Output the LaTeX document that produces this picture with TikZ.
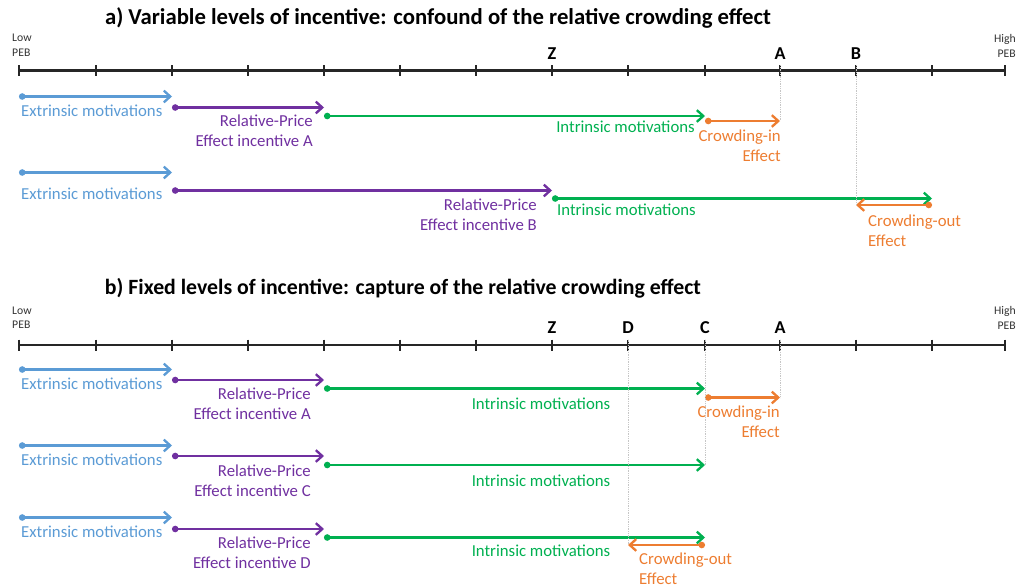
\documentclass[tikz,border=0pt]{standalone}
\usepackage{fontspec}
\setmainfont{Carlito}
\usetikzlibrary{arrows.meta,positioning}

\definecolor{extblue}{HTML}{5B9BD5}
\definecolor{relpurple}{HTML}{7030A0}
\definecolor{intgreen}{HTML}{00B050}
\definecolor{crowdorange}{HTML}{ED7D31}

\tikzset{
  axisline/.style={line width=2pt, black!85},
  axistick/.style={line width=1.7pt, black!85},
  mot/.style={line width=2pt, {Circle[length=5.5pt]}-{Straight Barb[length=5.5pt,width=10pt]}},
  lbl/.style={font=\fontsize{14.3}{17}\selectfont, inner sep=0pt},
  endlbl/.style={font=\fontsize{10}{12.5}\selectfont, inner sep=0pt, black!80},
  ptlbl/.style={font=\bfseries\fontsize{15.5}{15.5}\selectfont, inner sep=0pt},
  ttl/.style={font=\bfseries\fontsize{19.4}{20}\selectfont, inner sep=0pt},
  guide/.style={gray!45, line width=0.5pt, densely dotted}
}

% name, colour, x start, x end, y
\newcommand{\motive}[5]{%
  \coordinate (#1s) at (#3,#5);
  \coordinate (#1e) at (#4,#5);
  \draw[mot,#2] (#1s) -- (#1e);}

\begin{document}
\begin{tikzpicture}[x=0.03cm, y=-0.03cm]
  \useasboundingbox (0,0) rectangle (1018,587);

  % ---- panel a ----
  \node[ttl] (ttla) at (438,18) {a) Variable levels of incentive: confound of the relative crowding effect};
  \draw[axisline] (19,70.5) -- (1005,70.5);
  \foreach \x [count=\i from 0] in {19,96,172,248,324,400,476,552,628,705,780,856,932,1005}
    \draw[axistick] (\x,65) coordinate (a\i) -- (\x,76);
  \node[endlbl, anchor=north west, align=left] (lowa) at (12,34) {Low\\PEB};
  \node[endlbl, anchor=north east, align=right] (higha) at (1016,34) {High\\PEB};
  \node[ptlbl] (za) at (552,54) {Z};
  \node[ptlbl] (aa) at (780,54) {A};
  \node[ptlbl] (ba) at (856,54) {B};

  % incentive A
  \motive{ax}{extblue}{19}{172}{96.5}
  \motive{ap}{relpurple}{172}{324}{107.5}
  \motive{ag}{intgreen}{324}{705}{116}
  \motive{ac}{crowdorange}{705}{780}{121}
  \node[lbl, extblue, anchor=west] (axl) at (21,110.5) {Extrinsic motivations};
  \node[lbl, relpurple, anchor=east, align=right] (apl) at (313,131) {Relative-Price\\Effect incentive A};
  \node[lbl, intgreen, anchor=east] (agl) at (695,127) {Intrinsic motivations};
  \node[lbl, crowdorange, anchor=east, align=right] (acl) at (781,146) {Crowding-in\\Effect};

  % incentive B
  \motive{bx}{extblue}{19}{172}{172.5}
  \motive{bp}{relpurple}{172}{552}{190.5}
  \motive{bg}{intgreen}{552}{932}{198.5}
  \motive{bc}{crowdorange}{932}{856}{205}
  \node[lbl, extblue, anchor=west] (bxl) at (21,194) {Extrinsic motivations};
  \node[lbl, relpurple, anchor=east, align=right] (bpl) at (537,215) {Relative-Price\\Effect incentive B};
  \node[lbl, intgreen, anchor=west] (bgl) at (557,209.5) {Intrinsic motivations};
  \node[lbl, crowdorange, anchor=west, align=left] (bcl) at (868,231) {Crowding-out\\Effect};

  \draw[guide] (a10) -- (ace);
  \draw[guide] (a11) -- (bce);

  % ---- panel b ----
  \node[ttl, font=\bfseries\fontsize{18.6}{20}\selectfont] (ttlb) at (403,288) {b) Fixed levels of incentive: capture of the relative crowding effect};
  \draw[axisline] (19,345) -- (1005,345);
  \foreach \x [count=\i from 0] in {19,96,172,248,324,400,476,552,628,705,780,856,932,1005}
    \draw[axistick] (\x,339.5) coordinate (b\i) -- (\x,350.5);
  \node[endlbl, anchor=north west, align=left] (lowb) at (12,306.5) {Low\\PEB};
  \node[endlbl, anchor=north east, align=right] (highb) at (1016,306.5) {High\\PEB};
  \node[ptlbl] (zb) at (552,328) {Z};
  \node[ptlbl] (db) at (628,328) {D};
  \node[ptlbl] (cb) at (705,328) {C};
  \node[ptlbl] (ab) at (780,328) {A};

  % incentive A
  \motive{cx}{extblue}{19}{172}{369.5}
  \motive{cp}{relpurple}{172}{324}{380}
  \motive{cg}{intgreen}{324}{705}{388.5}
  \motive{cc}{crowdorange}{705}{780}{397.5}
  \node[lbl, extblue, anchor=west] (cxl) at (21,383.5) {Extrinsic motivations};
  \node[lbl, relpurple, anchor=east, align=right] (cpl) at (311,404) {Relative-Price\\Effect incentive A};
  \node[lbl, intgreen] (cgl) at (541,404) {Intrinsic motivations};
  \node[lbl, crowdorange, anchor=east, align=right] (ccl) at (780,421.5) {Crowding-in\\Effect};

  % incentive C
  \motive{dx}{extblue}{19}{172}{445.5}
  \motive{dp}{relpurple}{172}{324}{456}
  \motive{dg}{intgreen}{324}{705}{465}
  \node[lbl, extblue, anchor=west] (dxl) at (21,459.5) {Extrinsic motivations};
  \node[lbl, relpurple, anchor=east, align=right] (dpl) at (311,480.5) {Relative-Price\\Effect incentive C};
  \node[lbl, intgreen] (dgl) at (541,481) {Intrinsic motivations};

  % incentive D
  \motive{ex}{extblue}{19}{172}{517.5}
  \motive{ep}{relpurple}{172}{324}{529}
  \motive{eg}{intgreen}{324}{705}{537.5}
  \motive{ec}{crowdorange}{705}{628}{545}
  \node[lbl, extblue, anchor=west] (exl) at (21,532) {Extrinsic motivations};
  \node[lbl, relpurple, anchor=east, align=right] (epl) at (311,553) {Relative-Price\\Effect incentive D};
  \node[lbl, intgreen] (egl) at (541,551) {Intrinsic motivations};
  \node[lbl, crowdorange, anchor=west, align=left] (ecl) at (639,569) {Crowding-out\\Effect};

  \draw[guide] (b8) -- (ece);
  \draw[guide] (b9) -- (dge);
  \draw[guide] (b10) -- (cce);
\end{tikzpicture}
\end{document}
